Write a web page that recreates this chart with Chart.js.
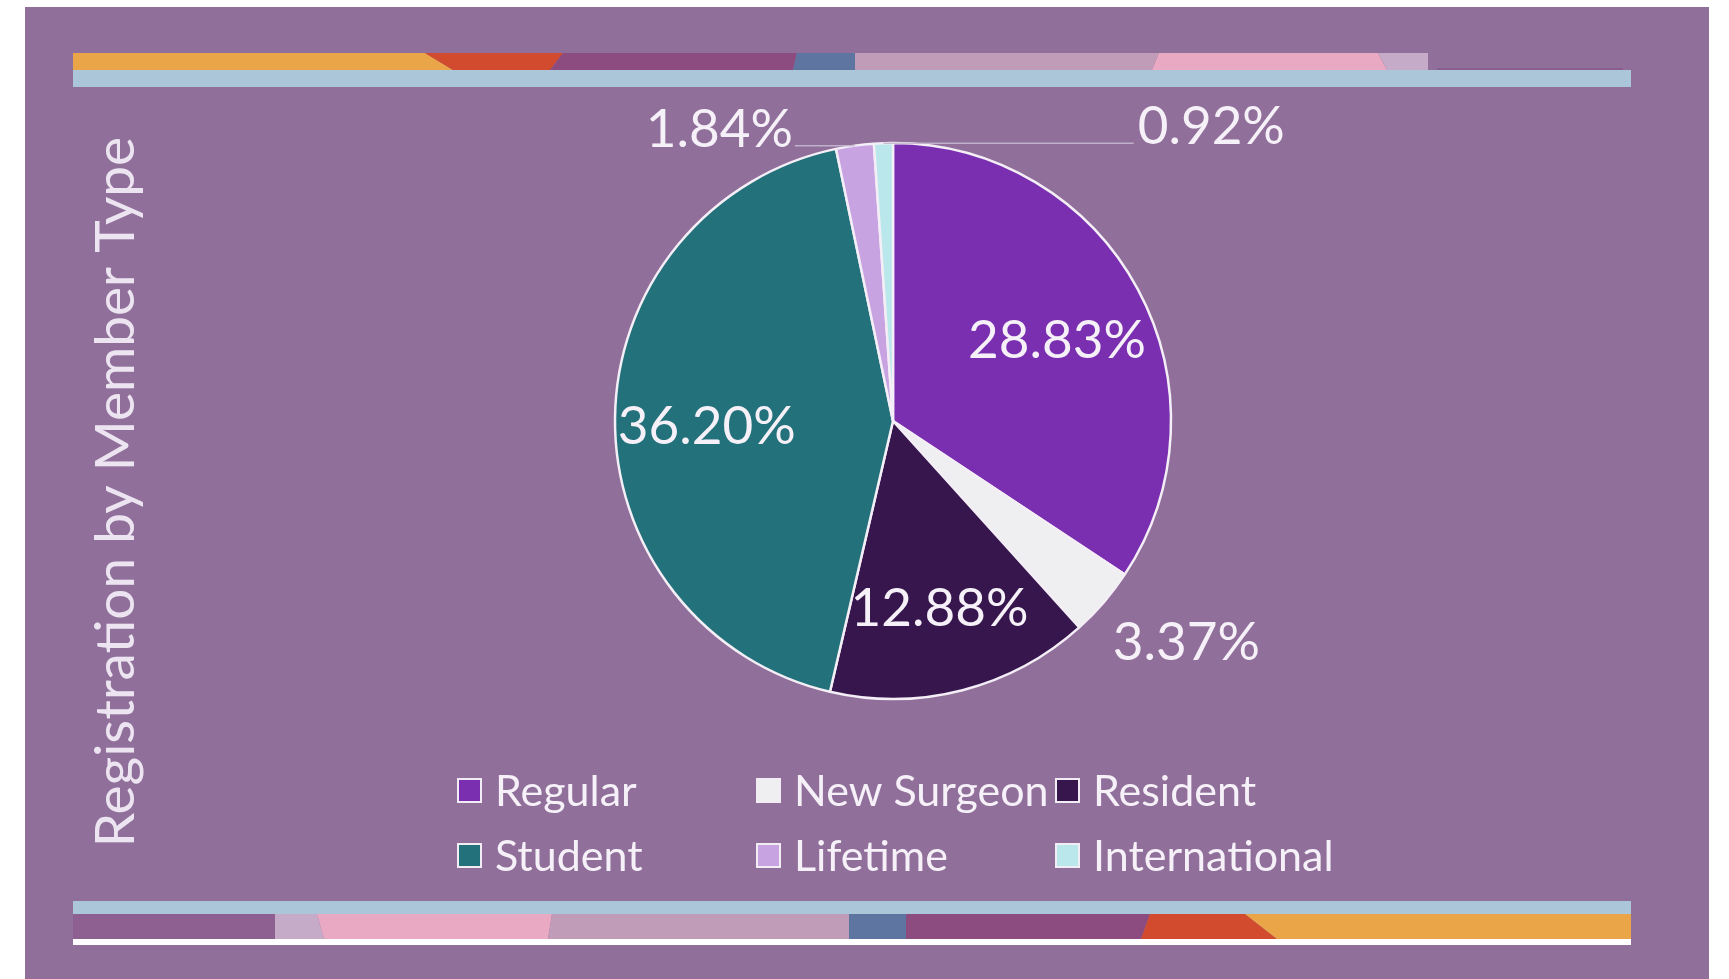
<!DOCTYPE html>
<html><head><meta charset="utf-8">
<script src="https://cdn.jsdelivr.net/npm/chart.js@4.4.1/dist/chart.umd.min.js"></script>
<style>
  html, body { margin: 0; padding: 0; background: #ffffff; }
  canvas { display: block; }
</style>
</head>
<body>
<canvas id="myChart" width="1729" height="979"></canvas>
<script>
// chart data
var memberTypes = ['Regular', 'New Surgeon', 'Resident', 'Student', 'Lifetime', 'International'];
var shares = [28.83, 3.37, 12.88, 36.20, 1.84, 0.92];
var sliceColors = ['#7a2fb0', '#efeef0', '#36164d', '#23717b', '#c8a3e2', '#b9e7eb'];
var axisTitle = 'Registration by Member Type';

var FONT = 'Lato, "Open Sans", sans-serif';
var TEXT = '#f6f1f8';

// purple card + the two decorative stripes
var backdrop = {
  id: 'backdrop',
  beforeDraw: function (chart) {
    var c = chart.ctx;
    c.save();
    c.fillStyle = '#ffffff';
    c.fillRect(0, 0, chart.width, chart.height);
    c.fillStyle = '#916f9b';
    c.fillRect(25, 7, 1684, chart.height - 7);

    function quad(x1, x2, x3, x4, y1, y2, col) {
      c.fillStyle = col;
      c.beginPath();
      c.moveTo(x1, y1); c.lineTo(x2, y1); c.lineTo(x4, y2); c.lineTo(x3, y2);
      c.closePath(); c.fill();
    }
    // top stripe
    c.fillStyle = '#aac6d8';
    c.fillRect(73, 70, 1558, 17);
    quad(73, 425, 73, 453, 53, 70, '#e9a547');
    quad(425, 563, 453, 550, 53, 70, '#d24b2e');
    quad(563, 797, 550, 793, 53, 70, '#8d4c80');
    quad(797, 855, 793, 855, 53, 70, '#5d75a0');
    quad(855, 1159, 855, 1152, 53, 70, '#c09cb8');
    quad(1159, 1378, 1152, 1387, 53, 70, '#eaa9c3');
    quad(1378, 1428, 1387, 1428, 53, 70, '#c6abc8');
    c.fillStyle = '#895f92';
    c.fillRect(1437, 68, 186, 2);

    // bottom stripe
    c.fillStyle = '#aac6d8';
    c.fillRect(73, 901, 1558, 13);
    quad(73, 275, 73, 275, 914, 939, '#8e5f91');
    quad(275, 317, 275, 324, 914, 939, '#c6abc8');
    quad(317, 552, 324, 548, 914, 939, '#eaa9c3');
    quad(552, 849, 548, 849, 914, 939, '#c09cb8');
    quad(849, 906, 849, 906, 914, 939, '#5d75a0');
    quad(906, 1150, 906, 1141, 914, 939, '#8d4c80');
    quad(1150, 1245, 1141, 1277, 914, 939, '#d24b2e');
    quad(1245, 1631, 1277, 1631, 914, 939, '#e9a547');
    c.fillStyle = '#ffffff';
    c.fillRect(73, 939, 1558, 6);
    c.restore();
  }
};

// percentage labels, inside / outside / with leader lines
var sliceLabels = {
  id: 'sliceLabels',
  afterDatasetsDraw: function (chart) {
    var c = chart.ctx;
    var arcs = chart.getDatasetMeta(0).data;
    var tiny = [];
    shares.forEach(function (v, i) { if (v < 2) tiny.push(i); });
    c.save();
    c.font = '53px ' + FONT;
    c.fillStyle = TEXT;
    arcs.forEach(function (arc, i) {
      var p = arc.getProps(['x', 'y', 'startAngle', 'endAngle', 'outerRadius'], true);
      var mid = (p.startAngle + p.endAngle) / 2;
      var dx = Math.cos(mid), dy = Math.sin(mid);
      var r = p.outerRadius;
      var txt = shares[i].toFixed(2) + '%';
      if (shares[i] >= 10) {
        c.textAlign = 'center';
        c.textBaseline = 'middle';
        c.fillText(txt, p.x + dx * r * 0.67, p.y + dy * r * 0.67 + 8);
      } else if (shares[i] >= 2) {
        c.textAlign = dx > 0 ? 'left' : 'right';
        c.textBaseline = dy > 0 ? 'top' : 'bottom';
        c.fillText(txt, p.x + dx * (r + 12), p.y + dy * (r + 12) + 6);
      } else {
        // tiny slices near the top: last one goes right, the others left
        var right = i === tiny[tiny.length - 1];
        var ex = p.x + dx * r, ey = p.y + dy * r;
        var lx;
        if (!right) { lx = p.x - r * 0.36; c.textAlign = 'right'; }
        else { lx = p.x + r * 0.88; c.textAlign = 'left'; }
        c.strokeStyle = 'rgba(196,184,206,0.9)';
        c.lineWidth = 1.5;
        c.beginPath();
        c.moveTo(ex, ey);
        c.lineTo(right ? lx - 4 : lx + 2, ey);
        c.stroke();
        c.textBaseline = 'middle';
        c.fillText(txt, lx, ey - 16);
      }
    });
    c.restore();
  }
};

// two-row legend under the pie + rotated side title
var gridLegend = {
  id: 'gridLegend',
  afterDraw: function (chart) {
    var c = chart.ctx;
    var a = chart.chartArea;
    var cx = (a.left + a.right) / 2, cy = (a.top + a.bottom) / 2;
    var colors = chart.data.datasets[0].backgroundColor;
    c.save();
    c.font = '43px ' + FONT;
    c.textBaseline = 'middle';
    c.textAlign = 'left';
    chart.data.labels.forEach(function (name, i) {
      var col = i % 3, row = Math.floor(i / 3);
      var x = cx - 435 + col * 299;
      var y = cy + 370 + row * 65;
      c.fillStyle = colors[i];
      c.fillRect(x, y - 12, 23, 23);
      c.strokeStyle = '#f2ecf5';
      c.lineWidth = 2;
      c.strokeRect(x, y - 12, 23, 23);
      c.fillStyle = TEXT;
      c.fillText(name, x + 37, y + 1);
    });

    c.translate(116, 492);
    c.rotate(-Math.PI / 2);
    c.font = '55px ' + FONT;
    c.textAlign = 'center';
    c.fillStyle = '#ece4f1';
    c.fillText(axisTitle, 0, 0);
    c.restore();
  }
};

function build() {
  var ctx = document.getElementById('myChart');
  new Chart(ctx, {
    type: 'pie',
    data: {
      labels: memberTypes,
      datasets: [{
        data: shares,
        backgroundColor: sliceColors,
        borderColor: '#f4eef6',
        borderWidth: 2.5,
        radius: 278
      }]
    },
    options: {
      responsive: false,
      animation: false,
      devicePixelRatio: 1,
      layout: { padding: { left: 593, right: 536, top: 121, bottom: 258 } },
      plugins: {
        legend: { display: false },
        tooltip: { enabled: false }
      }
    },
    plugins: [backdrop, sliceLabels, gridLegend]
  });
}

if (document.fonts && document.fonts.load) {
  Promise.all([document.fonts.load('53px Lato'), document.fonts.load('43px Lato')]).then(build, build);
} else {
  build();
}
</script>
</body></html>
